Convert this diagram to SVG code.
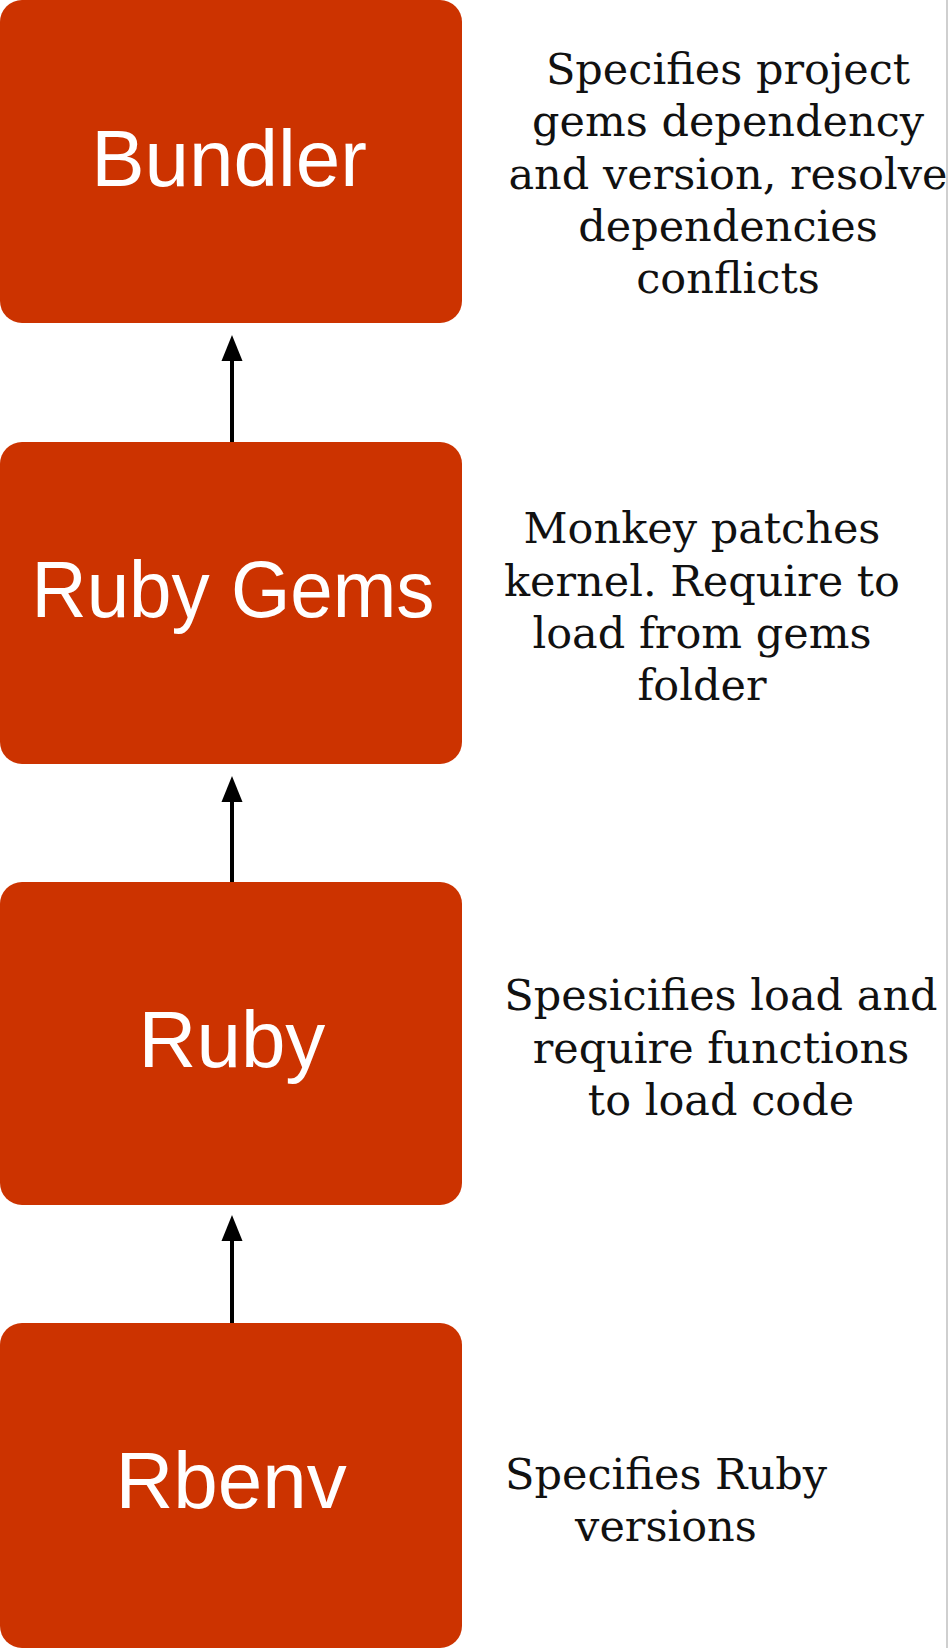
<svg xmlns="http://www.w3.org/2000/svg" width="950" height="1648" viewBox="0 0 950 1648">
<style>
.box{fill:#CC3300;}
.lbl{font-family:"Liberation Sans",Arial,sans-serif;font-size:80px;fill:#ffffff;text-anchor:middle;}
.desc{font-family:"DejaVu Serif",serif;font-size:43px;fill:#111111;text-anchor:middle;}
.conn{stroke:#000000;stroke-width:4;fill:none;}
.head{fill:#000000;}
</style>
<rect x="0" y="0" width="950" height="1648" fill="#ffffff"/>
<line x1="947" y1="0" x2="947" y2="1648" stroke="#cfcfcf" stroke-width="2"/>
<g id="connectors">
<line class="conn" x1="232" y1="442" x2="232" y2="358"/>
<polygon class="head" points="232,335 221.5,361 242.5,361"/>
<line class="conn" x1="232" y1="882" x2="232" y2="799"/>
<polygon class="head" points="232,776 221.5,802 242.5,802"/>
<line class="conn" x1="232" y1="1323" x2="232" y2="1238"/>
<polygon class="head" points="232,1215 221.5,1241 242.5,1241"/>
</g>
<g id="bundler">
<rect class="box" x="0" y="0" width="462" height="323" rx="22" ry="22"/>
<text class="lbl" x="229" y="186" font-size="84">Bundler</text>
</g>
<g id="bundler-desc">
<text class="desc" x="728" y="84">Specifies project</text>
<text class="desc" x="728" y="136">gems dependency</text>
<text class="desc" x="728" y="189">and version, resolve</text>
<text class="desc" x="728" y="241">dependencies</text>
<text class="desc" x="728" y="293">conflicts</text>
</g>
<g id="rubygems">
<rect class="box" x="0" y="442" width="462" height="322" rx="22" ry="22"/>
<text class="lbl" x="233" y="617" textLength="403" lengthAdjust="spacingAndGlyphs">Ruby Gems</text>
</g>
<g id="rubygems-desc">
<text class="desc" x="702" y="543">Monkey patches</text>
<text class="desc" x="702" y="596">kernel. Require to</text>
<text class="desc" x="702" y="648">load from gems</text>
<text class="desc" x="702" y="700">folder</text>
</g>
<g id="ruby">
<rect class="box" x="0" y="882" width="462" height="323" rx="22" ry="22"/>
<text class="lbl" x="232" y="1067">Ruby</text>
</g>
<g id="ruby-desc">
<text class="desc" x="721" y="1010">Spesicifies load and</text>
<text class="desc" x="721" y="1063">require functions</text>
<text class="desc" x="721" y="1115">to load code</text>
</g>
<g id="rbenv">
<rect class="box" x="0" y="1323" width="462" height="325" rx="22" ry="22"/>
<text class="lbl" x="231" y="1508">Rbenv</text>
</g>
<g id="rbenv-desc">
<text class="desc" x="666" y="1489">Specifies Ruby</text>
<text class="desc" x="666" y="1541">versions</text>
</g>
</svg>
